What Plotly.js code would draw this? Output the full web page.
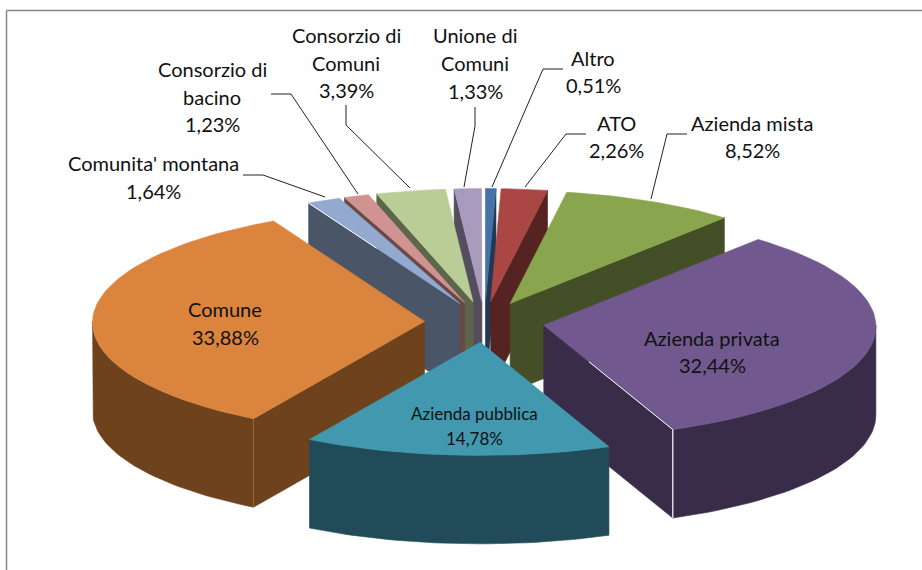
<!DOCTYPE html>
<html><head><meta charset="utf-8">
<script src="https://cdn.plot.ly/plotly-3.0.1.min.js"></script>
<style>html,body{margin:0;padding:0;background:#fff}#chart{width:922px;height:570px}</style>
</head><body><div id="chart"></div>
<script>
// Data, in drawing order clockwise from 12 o'clock
const categories = ["Altro","ATO","Azienda mista","Azienda privata","Azienda pubblica","Comune","Comunita' montana","Consorzio di bacino","Consorzio di Comuni","Unione di Comuni"];
const values = [0.51,2.26,8.52,32.44,14.78,33.88,1.64,1.23,3.39,1.33];
const topColors = ["#4572A7","#AA4643","#89A54E","#71588F","#4198AF","#DB843D","#93A9CF","#D09391","#B9CD96","#A99BBD"];
const wallColors = ["#223954","#552321","#454F27","#392C48","#214B58","#6F421E","#4A5568","#684948","#5D664B","#544D5E"];
const labelLines = [["Altro"],["ATO"],["Azienda mista"],["Azienda privata"],["Azienda pubblica"],["Comune"],["Comunita' montana"],["Consorzio di","bacino"],["Consorzio di","Comuni"],["Unione di","Comuni"]];
const labelX = [593,616,752,712,474,225,153,212,346,475];
const labelY = [58,123,123,338,413,309,163,69,35,35];
const labelSize = [20,20,20,20,17,20,20,20,20,20];
const lineGap = [27,27,27,27,25,28,28,27.5,27.5,28];
const leaders = [
 [[563,69],[543,69],[492,187]],[[586,134],[566,134],[525,187]],[[687,134],[667,134],[651,199]],
 [[243,175],[263,175],[325,197]],[[271,94],[291,94],[358,194]],[[346,105],[346,125],[410,188]],[[475,107],[475,126],[464,187]]
];

// Projection of the exploded pie
const cx=484.5, cy=322, rx=332, ry=113, depth=88.5, explode=60, persp=8e-5, rad=Math.PI/180;
const total = 100;
const traces=[];
function poly(pts,color){
  traces.push({type:'scatter',mode:'lines',x:pts.map(p=>p[0]),y:pts.map(p=>p[1]),fill:'toself',fillcolor:color,
    line:{color:color,width:0.6},hoverinfo:'skip',showlegend:false});
}
function seg(a,b,color,w){
  traces.push({type:'scatter',mode:'lines',x:[a[0],b[0]],y:[a[1],b[1]],line:{color:color,width:w},hoverinfo:'skip',showlegend:false});
}
let acc=0;
const slices=values.map((v,i)=>{
  const s=acc/total*360; acc+=v; const e=acc/total*360; const m=(s+e)/2;
  return {i,s,e,m,ax:cx+explode*Math.sin(m*rad),ay:cy-explode*ry/rx*Math.cos(m*rad)};
});
const rim=(sl,a)=>{
  const x=sl.ax+rx*Math.sin(a*rad), y=sl.ay-ry*Math.cos(a*rad);
  return [cx+(x-cx)*(1+persp*(y-cy)),y];
};
const down=p=>[p[0],p[1]+depth];
slices.slice().sort((p,q)=>Math.cos(q.m*rad)-Math.cos(p.m*rad)).forEach(sl=>{
  const wc=wallColors[sl.i], apex=[sl.ax,sl.ay];
  if(Math.sin(sl.s*rad)<0){const r=rim(sl,sl.s);poly([apex,r,down(r),down(apex),apex],wc);}
  if(Math.sin(sl.e*rad)>0){const r=rim(sl,sl.e);poly([apex,r,down(r),down(apex),apex],wc);}
  const a0=Math.max(sl.s,90),a1=Math.min(sl.e,270);
  if(a1>a0){
    const up=[];for(let k=0;k<=40;k++)up.push(rim(sl,a0+(a1-a0)*k/40));
    poly(up.concat(up.slice().reverse().map(down)).concat([up[0]]),wc);
  }
  const top=[apex];const n=Math.max(4,Math.ceil((sl.e-sl.s)/2));
  for(let k=0;k<=n;k++)top.push(rim(sl,sl.s+(sl.e-sl.s)*k/n));
  top.push(apex);poly(top,topColors[sl.i]);
  if(categories[sl.i]==="Comune"){const r=rim(sl,sl.s);seg(r,down(r),"#94694A",1);}
  if(categories[sl.i]==="Azienda privata"){
    const r=rim(sl,sl.e);seg(r,down(r),"#FFFFFF",1.2);
    seg([apex[0]+(r[0]-apex[0])*0.35,apex[1]+(r[1]-apex[1])*0.35],r,"#FFFFFF",1);
  }
  if(categories[sl.i]==="Comunita' montana"){
    const r=rim(sl,sl.s);seg([apex[0]+(r[0]-apex[0])*0.55,apex[1]+(r[1]-apex[1])*0.55],r,"#FFFFFF",1);
  }
});

leaders.forEach(l=>traces.push({type:'scatter',mode:'lines',x:l.map(p=>p[0]),y:l.map(p=>p[1]),
  line:{color:'#222222',width:1},hoverinfo:'skip',showlegend:false}));

const annotations=[];
values.forEach((v,i)=>{
  const lines=labelLines[i].concat([v.toFixed(2).replace('.',',')+'%']);
  lines.forEach((t,j)=>annotations.push({x:labelX[i],y:labelY[i]+j*lineGap[i],xref:'x',yref:'y',text:t,showarrow:false,
    xanchor:'center',yanchor:'middle',font:{family:'Lato, Carlito, sans-serif',size:labelSize[i],color:'#111111'}}));
});

const layout={width:922,height:570,margin:{l:0,r:0,t:0,b:0},paper_bgcolor:'#fff',plot_bgcolor:'#fff',showlegend:false,
  xaxis:{range:[0,922],visible:false,fixedrange:true},
  yaxis:{range:[570,0],visible:false,fixedrange:true},
  annotations,
  shapes:[
   {type:'line',xref:'x',yref:'y',x0:6.5,x1:6.5,y0:10.5,y1:570,line:{color:'#868686',width:1.5}},
   {type:'line',xref:'x',yref:'y',x0:6.5,x1:922,y0:10.5,y1:10.5,line:{color:'#868686',width:1.5}}
  ]};
Plotly.newPlot('chart',traces,layout,{displayModeBar:false,staticPlot:true});
</script></body></html>
